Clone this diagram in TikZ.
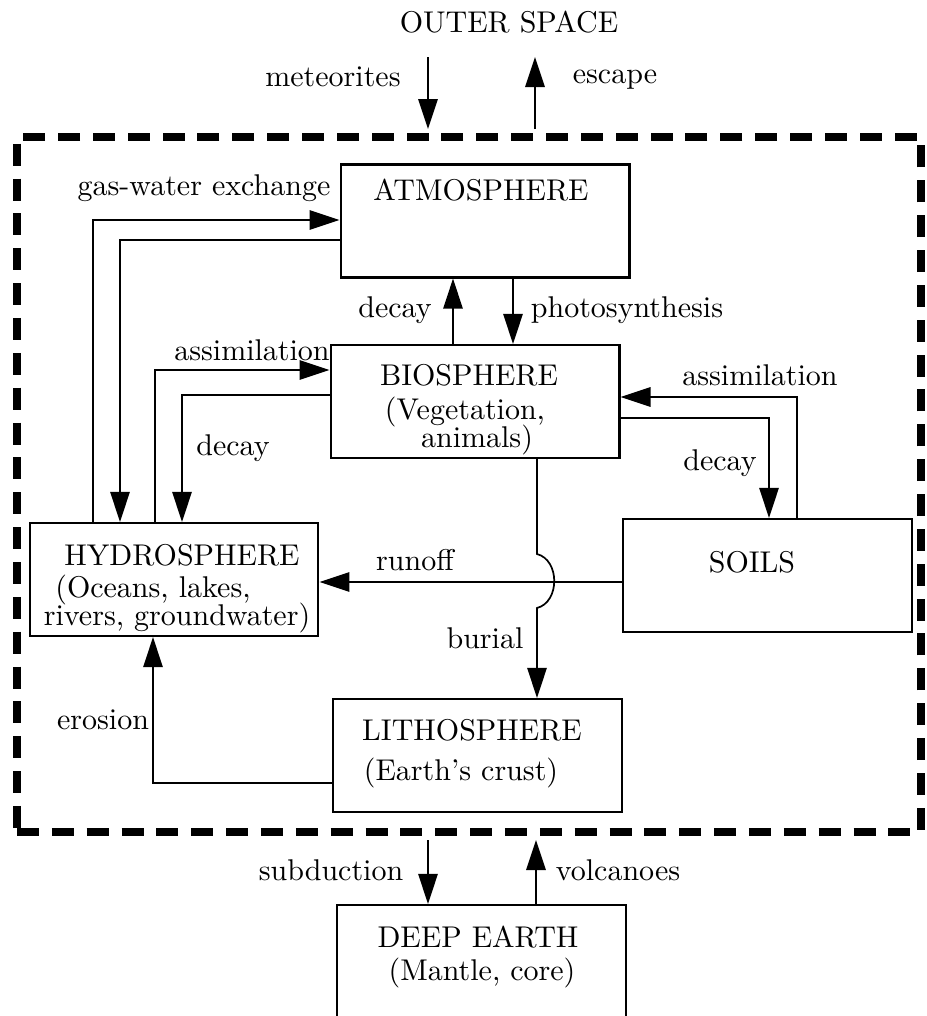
\documentclass[tikz,border=0pt]{standalone}
\usetikzlibrary{arrows.meta,fit}
\begin{document}
\begin{tikzpicture}[x=0.35pt, y=-0.35pt, thick]
\tikzstyle{every node}=[inner sep=0pt, font=\fontsize{10.5}{12}\selectfont]
\tikzstyle{box}=[draw, line width=0.85pt, minimum width=101pt, minimum height=39.5pt]
\tikzstyle{flow}=[line width=0.6pt, -{Triangle[length=10.5pt,width=6.8pt]}]
\tikzstyle{sysbox}=[draw, line width=2.8pt, dash pattern=on 7.7pt off 4.5pt, inner sep=0pt]

\useasboundingbox (0,0) rectangle (927,1016);
\clip (0,0) rectangle (927,1016);

\coordinate (sysnw) at (17,137);
\coordinate (sysse) at (921,832);
\node[sysbox, fit=(sysnw)(sysse)] (sys) {};

\node[box] (atm) at (485,221) {};
\node[box] (bio) at (475,401.5) {};
\node[box] (hyd) at (174,579.5) {};
\node[box] (soil) at (767.5,575.5) {};
\node[box] (lith) at (477.5,755.5) {};
\node[box] (deep) at (481.5,961.5) {};

\node (tout) at (509,22) {OUTER SPACE};
\node (tatm) at (481,190) {ATMOSPHERE};
\node (tbio1) at (469,375) {BIOSPHERE};
\node (tbio2) at (465,412) {(Vegetation,};
\node (tbio3) at (477,440) {animals)};
\node (thyd1) at (182,555) {HYDROSPHERE};
\node (thyd2) at (153,590) {(Oceans, lakes,};
\node (thyd3) at (177,618) {rivers, groundwater)};
\node (tsoil) at (752,562) {SOILS};
\node (tlith1) at (472,730) {LITHOSPHERE};
\node (tlith2) at (461,773) {(Earth's crust)};
\node (tdeep1) at (478,937) {DEEP EARTH};
\node (tdeep2) at (482,973) {(Mantle, core)};

\node (lmet) at (333,77) {meteorites};
\node (lesc) at (615,80) {escape};
\node (lgw) at (204,188) {gas-water exchange};
\node (ldec1) at (395,310) {decay};
\node (lpho) at (627,310) {photosynthesis};
\node (lass1) at (252,350) {assimilation};
\node (lass2) at (760,375) {assimilation};
\node (ldec2) at (233,448) {decay};
\node (ldec3) at (720,463) {decay};
\node (lrun) at (415,560) {runoff};
\node (lbur) at (485,638) {burial};
\node (lero) at (103,720) {erosion};
\node (lsub) at (331,870) {subduction};
\node (lvol) at (618,870) {volcanoes};

\coordinate (met) at (428,57);
\coordinate (esc) at (535,57);
\coordinate (gw1) at (93,220);
\coordinate (gw2) at (120,240);
\coordinate (dc1) at (453,0);
\coordinate (ph) at (513,0);
\coordinate (as1) at (155,370);
\coordinate (dc2) at (182,395);
\coordinate (as2) at (797,397);
\coordinate (dc3) at (769,418);
\coordinate (ro) at (0,582);
\coordinate (bur) at (537,0);
\coordinate (hop1) at (537,554);
\coordinate (hop2) at (537,608);
\coordinate (er) at (153,783);
\coordinate (sub) at (428,0);
\coordinate (vol) at (536,0);

\draw[flow, shorten >=1.4pt] (met) -- (met |- sys.north);
\draw[flow, shorten <=1.4pt] (esc |- sys.north) -- (esc);
\draw[flow] (hyd.north -| gw1) |- (atm.west |- gw1);
\draw[flow] (atm.west |- gw2) -| (hyd.north -| gw2);
\draw[flow] (bio.north -| dc1) -- (atm.south -| dc1);
\draw[flow] (atm.south -| ph) -- (bio.north -| ph);
\draw[flow] (hyd.north -| as1) |- (bio.west |- as1);
\draw[flow] (bio.west |- dc2) -| (hyd.north -| dc2);
\draw[flow] (soil.north -| as2) |- (bio.east |- as2);
\draw[flow] (bio.east |- dc3) -| (soil.north -| dc3);
\draw[flow] (soil.west |- ro) -- (hyd.east |- ro);
\draw[flow] (bio.south -| bur) -- (hop1) .. controls +(23,6) and +(23,-6) .. (hop2) -- (lith.north -| bur);
\draw[flow] (lith.west |- er) -| (hyd.south -| er);
\draw[flow, shorten <=1.4pt] (sys.south -| sub) -- (deep.north -| sub);
\draw[flow, shorten >=1.4pt] (deep.north -| vol) -- (sys.south -| vol);
\end{tikzpicture}
\end{document}
